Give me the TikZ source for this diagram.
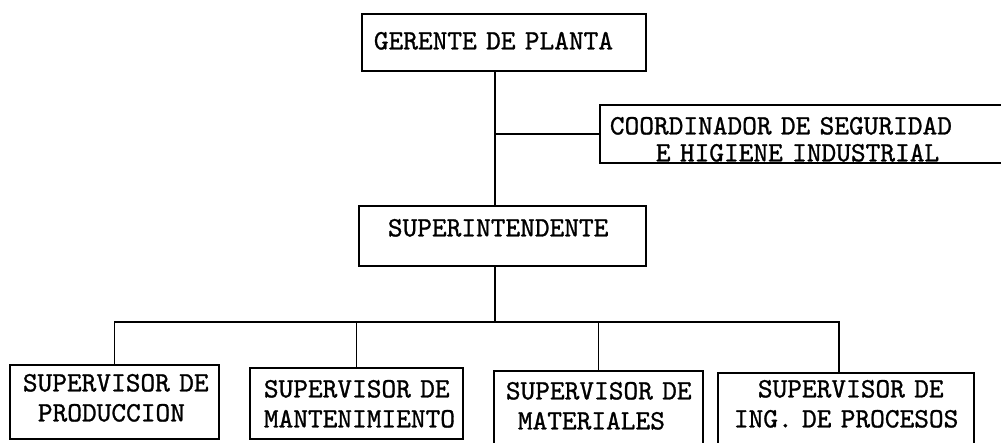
\documentclass[tikz,border=0pt]{standalone}
\usepackage{fontspec}
\newfontfamily\boxfont{lmmono10-regular.otf}[FakeBold=1,HyphenChar=None]
\begin{document}
\begin{tikzpicture}[x=1pt,y=-1pt,
  box/.style={draw, line width=1.8pt, inner ysep=0pt, anchor=north west, align=left,
    font=\fontsize{28}{30}\selectfont\boxfont},
  link/.style={line width=1.8pt}]
\useasboundingbox (0,0) rectangle (1001,443);
\clip (0,0) rectangle (1001,443);
\node[box, inner xsep=12pt, text width=260pt, text height=35.5pt, text depth=21.5pt] (ger) at (361,13) {GERENTE~DE~PLANTA};
\node[box, inner xsep=10pt, text width=400pt, text height=29.5pt, text depth=28.5pt] (coord) at (599,104) {COORDINADOR~DE~SEGURIDAD\\[-3pt]\hspace*{46pt}E~HIGIENE~INDUSTRIAL};
\node[box, inner xsep=29pt, text width=229pt, text height=30.5pt, text depth=29.5pt] (sup) at (358,205) {SUPERINTENDENTE};
\node[box, inner xsep=13pt, text width=183pt, text height=26.5pt, text depth=47.5pt] (b1) at (9,364) {SUPERVISOR~DE\\\hspace*{15pt}PRODUCCION};
\node[box, inner xsep=14pt, text width=185pt, text height=29.5pt, text depth=41.5pt] (b2) at (249,367) {SUPERVISOR~DE\\MANTENIMIENTO};
\node[box, inner xsep=12pt, text width=185pt, text height=28.5pt, text depth=50pt] (b3) at (493,370) {SUPERVISOR~DE\\\hspace*{12pt}MATERIALES};
\node[box, inner xsep=16pt, text width=224pt, text height=24.5pt, text depth=52pt] (b4) at (717,372) {\hspace*{24pt}SUPERVISOR~DE\\ING.~DE~PROCESOS};
\coordinate (spine) at (495,0);
\coordinate (bar) at (495,322);
\coordinate (d4) at ([xshift=-7pt]b4.north);
\draw[link] (ger.south -| spine) -- (sup.north -| spine);
\draw[link] (spine |- coord.west) -- (coord.west);
\draw[link] (sup.south -| spine) -- (bar);
\draw[link] (b1.north) -- (b1.north |- bar) -- (d4 |- bar) -- (d4);
\draw[link] (b2.north) -- (b2.north |- bar);
\draw[link] (b3.north) -- (b3.north |- bar);
\end{tikzpicture}
\end{document}
